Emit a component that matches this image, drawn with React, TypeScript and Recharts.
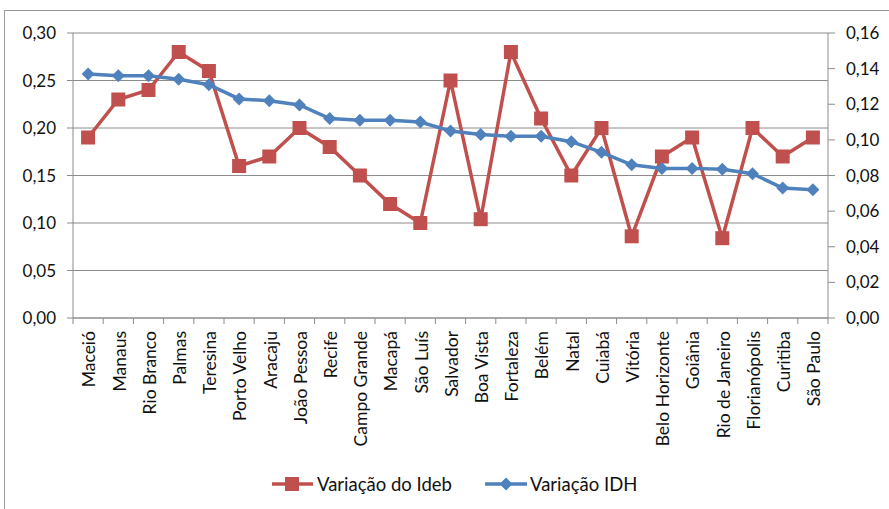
import React from "react";
import { LineChart, Line, XAxis, YAxis, CartesianGrid } from "recharts";

const cities = [
  "Maceió", "Manaus", "Rio Branco", "Palmas", "Teresina", "Porto Velho", "Aracaju",
  "João Pessoa", "Recife", "Campo Grande", "Macapá", "São Luís", "Salvador",
  "Boa Vista", "Fortaleza", "Belém", "Natal", "Cuiabá", "Vitória", "Belo Horizonte",
  "Goiânia", "Rio de Janeiro", "Florianópolis", "Curitiba", "São Paulo",
];
const idebVar = [
  0.19, 0.23, 0.24, 0.28, 0.26, 0.16, 0.17, 0.20, 0.18, 0.15, 0.12, 0.10, 0.25,
  0.104, 0.28, 0.21, 0.15, 0.20, 0.086, 0.17, 0.19, 0.084, 0.20, 0.17, 0.19,
];
const idhVar = [
  0.137, 0.136, 0.136, 0.134, 0.131, 0.123, 0.122, 0.1196, 0.112, 0.111, 0.111, 0.110,
  0.105, 0.103, 0.102, 0.102, 0.099, 0.093, 0.086, 0.084, 0.084, 0.0835, 0.081, 0.073, 0.072,
];
const leftTicks = [0, 0.05, 0.1, 0.15, 0.2, 0.25, 0.3];
const rightTicks = [0, 0.02, 0.04, 0.06, 0.08, 0.1, 0.12, 0.14, 0.16];
const seriesNames = ["Variação do Ideb", "Variação IDH"];

const RED = "#C0504D";
const BLUE = "#4F81BD";
const GRID = "#8C8C8C";
const FONT = "Lato, 'Open Sans', sans-serif";
const TXT = "#111";

const W = 889;
const H = 509;
const PLOT_LEFT = 73;
const PLOT_RIGHT = 828;
const PLOT_TOP = 33;
const PLOT_BOTTOM = 318;
const BAND = (PLOT_RIGHT - PLOT_LEFT) / cities.length;

const data = cities.map((c, i) => ({ city: c, ideb: idebVar[i], idh: idhVar[i] }));

const fmt = (v: number) => v.toFixed(2).replace(".", ",");

const SquareDot = (props: any) => {
  const { cx, cy } = props;
  if (cx == null || cy == null) return null;
  return <rect x={cx - 7} y={cy - 7} width={14} height={14} fill={RED} />;
};

const DiamondDot = (props: any) => {
  const { cx, cy } = props;
  if (cx == null || cy == null) return null;
  const r = 6.5;
  return (
    <polygon
      points={`${cx},${cy - r} ${cx + r},${cy} ${cx},${cy + r} ${cx - r},${cy}`}
      fill={BLUE}
    />
  );
};

const CityTick = (props: any) => {
  const { x, payload, index } = props;
  const lineTop = PLOT_BOTTOM;
  return (
    <g>
      <line x1={x - BAND / 2} x2={x - BAND / 2} y1={lineTop} y2={lineTop + 6} stroke={GRID} />
      {index === cities.length - 1 && (
        <line x1={x + BAND / 2} x2={x + BAND / 2} y1={lineTop} y2={lineTop + 6} stroke={GRID} />
      )}
      <text
        transform={`translate(${x + 1},${lineTop + 13}) rotate(-90)`}
        textAnchor="end"
        dy="0.36em"
        fontSize={17.5}
        fontFamily={FONT}
        fill={TXT}
      >
        {payload.value}
      </text>
    </g>
  );
};

const Legend = () => (
  <svg width={W} height={40} style={{ position: "absolute", left: 0, top: 466 }}>
    <g>
      <line x1={272} x2={313} y1={18} y2={18} stroke={RED} strokeWidth={3.5} />
      <rect x={285} y={11} width={14} height={14} fill={RED} />
      <text x={317} y={18} dy="0.36em" fontSize={18.5} fontFamily={FONT} fill={TXT}>
        {seriesNames[0]}
      </text>
      <line x1={485} x2={527} y1={18} y2={18} stroke={BLUE} strokeWidth={3.5} />
      <polygon points={`506,11.5 512.5,18 506,24.5 499.5,18`} fill={BLUE} />
      <text x={530} y={18} dy="0.36em" fontSize={18.5} fontFamily={FONT} fill={TXT}>
        {seriesNames[1]}
      </text>
    </g>
  </svg>
);

export default function App() {
  return (
    <div
      style={{
        position: "absolute",
        left: 0,
        top: 0,
        width: W,
        height: H,
        background: "#fff",
        overflow: "hidden",
      }}
    >
      <div
        style={{
          position: "absolute",
          left: 4,
          top: 10,
          width: W + 10,
          height: H + 10,
          borderLeft: "1px solid #9a9a9a",
          borderTop: "1px solid #9a9a9a",
        }}
      />
      <div style={{ position: "absolute", left: 0, top: 0 }}>
        <LineChart
          width={W}
          height={H}
          data={data}
          margin={{ top: PLOT_TOP, right: 0, left: 0, bottom: 0 }}
        >
          <CartesianGrid horizontal vertical={false} stroke={GRID} strokeWidth={1} yAxisId="left" />
          <XAxis
            dataKey="city"
            scale="band"
            height={H - PLOT_BOTTOM}
            interval={0}
            tickLine={false}
            axisLine={{ stroke: GRID }}
            tick={<CityTick />}
          />
          <YAxis
            yAxisId="left"
            orientation="left"
            width={PLOT_LEFT}
            domain={[0, 0.3]}
            ticks={leftTicks}
            tickFormatter={fmt}
            tickSize={6}
            tickMargin={11}
            axisLine={{ stroke: GRID }}
            tickLine={{ stroke: GRID }}
            tick={{ fontSize: 17, fontFamily: FONT, fill: TXT }}
          />
          <YAxis
            yAxisId="right"
            orientation="right"
            width={W - PLOT_RIGHT}
            domain={[0, 0.16]}
            ticks={rightTicks}
            tickFormatter={fmt}
            tickSize={7}
            tickMargin={11}
            axisLine={{ stroke: GRID }}
            tickLine={{ stroke: GRID }}
            tick={{ fontSize: 17, fontFamily: FONT, fill: TXT, textAnchor: "start" }}
          />
          <Line
            yAxisId="left"
            dataKey="ideb"
            name={seriesNames[0]}
            stroke={RED}
            strokeWidth={3.5}
            dot={<SquareDot />}
            activeDot={false}
            isAnimationActive={false}
          />
          <Line
            yAxisId="right"
            dataKey="idh"
            name={seriesNames[1]}
            stroke={BLUE}
            strokeWidth={3.5}
            dot={<DiamondDot />}
            activeDot={false}
            isAnimationActive={false}
          />
        </LineChart>
      </div>
      <Legend />
    </div>
  );
}
